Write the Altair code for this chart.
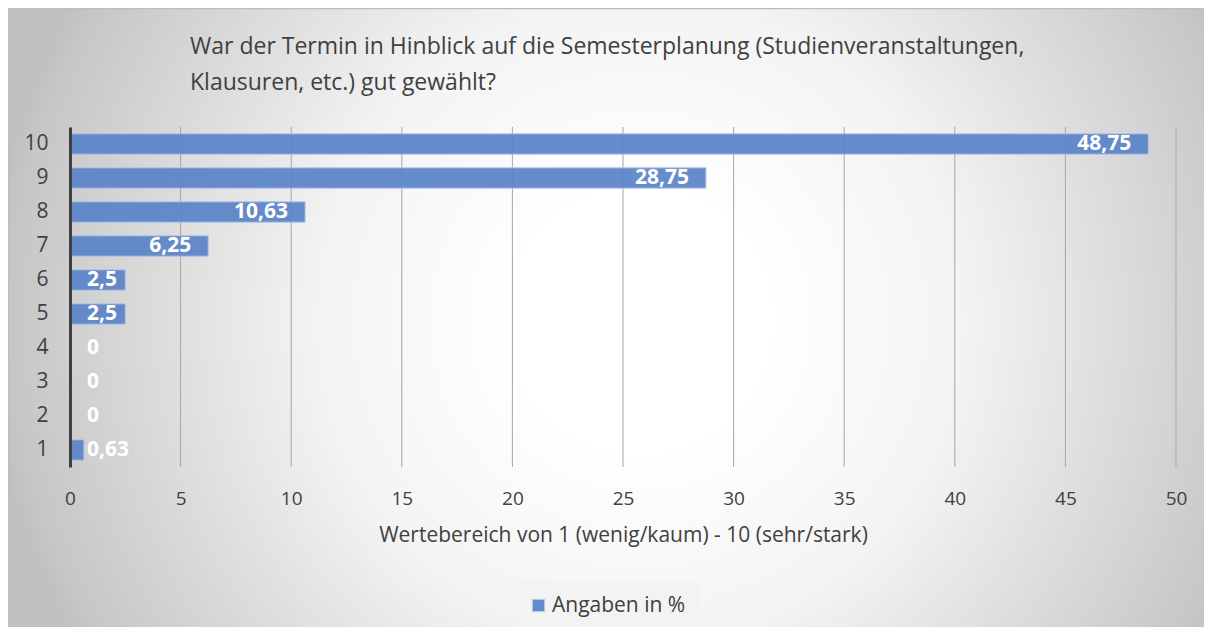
import altair as alt
import pandas as pd

categories = ["1", "2", "3", "4", "5", "6", "7", "8", "9", "10"]
values = [0.63, 0, 0, 0, 2.5, 2.5, 6.25, 10.63, 28.75, 48.75]
series_name = "Angaben in %"
x_ticks = [0, 5, 10, 15, 20, 25, 30, 35, 40, 45, 50]
title_lines = ["War der Termin in Hinblick auf die Semesterplanung (Studienveranstaltungen,",
               "Klausuren, etc.) gut gewählt?"]
x_title = "Wertebereich von 1 (wenig/kaum) - 10 (sehr/stark)"

df = pd.DataFrame({
    "cat": categories,
    "val": values,
    "series": [series_name] * len(categories),
    "label": [f"{v:g}".replace(".", ",") for v in values],
})
grid_df = pd.DataFrame({"t": x_ticks})
title_df = pd.DataFrame({"line": title_lines, "row": [0, 1]})

W, H = 1106, 340
PL, PT, PR, PB = 62, 119, 28, 160
FONT = "Open Sans"
TXT = "#404040"
BAR = "#5b84c8"

ysc = alt.Scale(domain=categories[::-1], paddingInner=0.4, paddingOuter=0.2)
xsc = alt.Scale(domain=[0, 50], nice=False)
one = pd.DataFrame({"a": [0]})

# circular radial gradient background (square box centred on the chart)
CX, CY, R = 570, 193, 650
bg = alt.Chart(one).mark_rect(
    fill=alt.Gradient(
        gradient="radial",
        stops=[alt.GradientStop(color="#ffffff", offset=0),
               alt.GradientStop(color="#ffffff", offset=0.2),
               alt.GradientStop(color="#f3f3f3", offset=0.5),
               alt.GradientStop(color="#c6c6c6", offset=0.97),
               alt.GradientStop(color="#c0c0c0", offset=1)],
        x1=0.5, y1=0.5, x2=0.5, y2=0.5, r1=0, r2=0.5),
).encode(
    x=alt.value(CX - R), x2=alt.value(CX + R),
    y=alt.value(CY - R), y2=alt.value(CY + R),
)
frame = alt.Chart(one).mark_rect(fillOpacity=0, stroke="#bdbdbd", strokeWidth=1.5).encode(
    x=alt.value(-PL + 0.5), x2=alt.value(W + PR + 6),
    y=alt.value(-PT + 0.5), y2=alt.value(H + PB + 6),
)

def title_line(row, ypix):
    return alt.Chart(title_df).transform_filter(f"datum.row == {row}").mark_text(
        align="left", baseline="middle", fontSize=23, font=FONT, color=TXT,
    ).encode(x=alt.value(120), y=alt.value(ypix), text="line:N")

title1 = title_line(0, -80)
title2 = title_line(1, -44)

grid = alt.Chart(grid_df).mark_rule(color="#a6a6a6", strokeWidth=1).encode(
    x=alt.X("t:Q", scale=xsc),
    y=alt.value(0), y2=alt.value(H),
)

bars = alt.Chart(df).mark_bar(stroke="#b4c7e7", strokeWidth=1, opacity=0.93).encode(
    x=alt.X("val:Q", scale=xsc,
            axis=alt.Axis(values=x_ticks, title=x_title, grid=False, labelFlush=False,
                          domain=False, ticks=False, labelPadding=22, zindex=1,
                          labelFontSize=19, labelColor=TXT, labelFont=FONT,
                          titleFont=FONT, titleFontSize=21, titleColor=TXT,
                          titleFontWeight="normal", titlePadding=16)),
    y=alt.Y("cat:N", scale=ysc, sort=categories[::-1],
            axis=alt.Axis(title=None, domain=True, domainColor="#404040", domainWidth=3,
                          ticks=False, labelPadding=22, labelFontSize=21, zindex=1,
                          labelColor=TXT, labelFont=FONT, grid=False)),
    color=alt.Color("series:N", scale=alt.Scale(range=[BAR]),
                    legend=alt.Legend(title=None, orient="none", legendX=445, legendY=455,
                                      fillColor="#f3f3f3", padding=13,
                                      symbolType="square", symbolSize=150,
                                      symbolStrokeColor="#b4c7e7", symbolStrokeWidth=1,
                                      labelFont=FONT, labelFontSize=21, labelColor=TXT,
                                      labelOffset=3)),
)

txt_big = alt.Chart(df).transform_filter("datum.val >= 5").mark_text(
    align="right", baseline="middle", dx=-17, color="white", fontWeight="bold",
    fontSize=21, font=FONT,
).encode(
    x=alt.X("val:Q", scale=xsc),
    y=alt.Y("cat:N", scale=ysc, sort=categories[::-1]),
    text="label:N",
)

txt_small = alt.Chart(df).transform_filter("datum.val < 5").mark_text(
    align="left", baseline="middle", dx=17, color="white", fontWeight="bold",
    fontSize=21, font=FONT,
).encode(
    x=alt.value(0),
    y=alt.Y("cat:N", scale=ysc, sort=categories[::-1]),
    text="label:N",
)

chart = alt.layer(bg, frame, title1, title2, grid, bars, txt_big, txt_small).properties(
    width=W, height=H,
    autosize=alt.AutoSizeParams(type="none"),
    padding={"left": PL, "top": PT, "right": PR, "bottom": PB},
).configure_view(stroke=None)

chart.save("out.html", embed_options={"renderer": "svg", "actions": False})
